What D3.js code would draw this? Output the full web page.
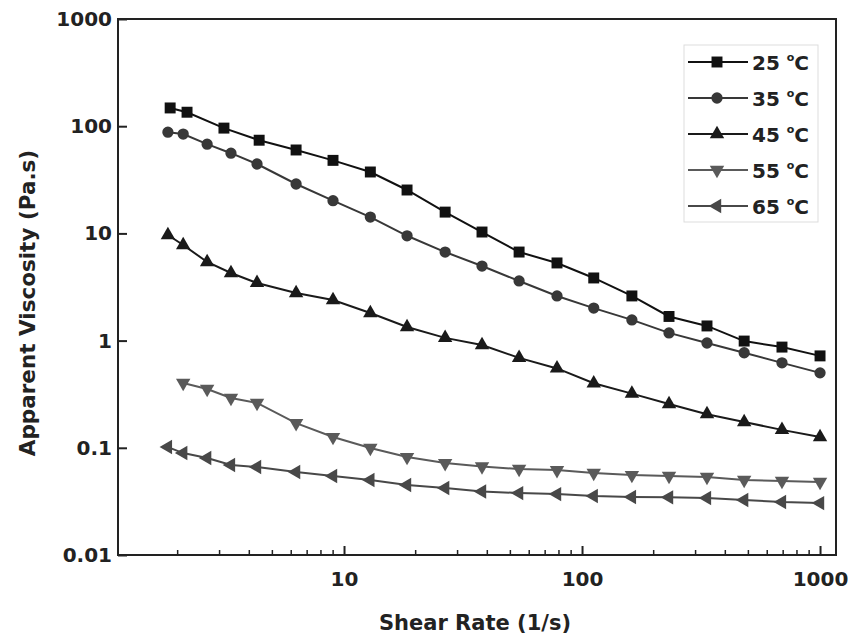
<!DOCTYPE html>
<html>
<head>
<meta charset="utf-8">
<script src="https://cdn.jsdelivr.net/npm/d3@7"></script>
<style>
  body { margin: 0; background: #fff; }
  svg { display: block; font-family: "DejaVu Sans", sans-serif; }
</style>
</head>
<body>
<svg id="canvas" width="848" height="638"></svg>
<script>
// shear rates (1/s)
let shearRate = [1.82, 2.11, 2.66, 3.35, 4.31, 6.29, 8.99, 12.9, 18.4, 26.6, 38.0, 54.4, 78.5, 112, 162, 232, 335, 480, 692, 1000]
let shearRate25 = [1.86, 2.19, 3.13, 4.4, 6.29, 8.99, 12.9, 18.4, 26.6, 38.0, 54.4, 78.5, 112, 162, 232, 335, 480, 692, 1000]
let shearRate55 = shearRate.slice(1)

// apparent viscosity (Pa.s)
let visc25 = [148, 135, 96, 74, 60, 48, 37.4, 25.4, 15.8, 10.3, 6.7, 5.3, 3.84, 2.61, 1.68, 1.37, 0.99, 0.87, 0.72]
let visc35 = [88, 84.5, 68, 56, 44.4, 28.9, 20.2, 14.2, 9.5, 6.7, 4.96, 3.6, 2.61, 2.01, 1.56, 1.18, 0.95, 0.77, 0.62, 0.50]
let visc45 = [9.66, 7.8, 5.41, 4.27, 3.45, 2.78, 2.39, 1.81, 1.34, 1.06, 0.91, 0.69, 0.55, 0.40, 0.32, 0.256, 0.206, 0.174, 0.147, 0.126]
let visc55 = [0.402, 0.354, 0.292, 0.262, 0.170, 0.126, 0.0996, 0.082, 0.072, 0.067, 0.0634, 0.062, 0.0582, 0.0557, 0.0546, 0.0534, 0.0501, 0.049, 0.048]
let visc65 = [0.1016, 0.0893, 0.0803, 0.0691, 0.0662, 0.0594, 0.0546, 0.0501, 0.045, 0.0422, 0.0391, 0.0378, 0.037, 0.0355, 0.0348, 0.0345, 0.034, 0.0326, 0.0312, 0.0305]

let yTicks = [0.01, 0.1, 1, 10, 100, 1000]
let yTickLabels = ['0.01', '0.1', '1', '10', '100', '1000']
let xTicks = [10, 100, 1000]
let xTickLabels = ['10', '100', '1000']

let series = [
    { name: '25', x: shearRate25, y: visc25, color: '#111', shape: 'square' },
    { name: '35', x: shearRate, y: visc35, color: '#383838', shape: 'circle' },
    { name: '45', x: shearRate, y: visc45, color: '#1a1a1a', shape: 'up' },
    { name: '55', x: shearRate55, y: visc55, color: '#5a5a5a', shape: 'down' },
    { name: '65', x: shearRate, y: visc65, color: '#484848', shape: 'left' }
]

let plotLeft = 118, plotRight = 836, plotTop = 19, plotBottom = 555
let fontFamily = '"DejaVu Sans", sans-serif'

let canvas = d3.select('#canvas')

let xScale = d3.scaleLog().domain([1.123, 1167]).range([plotLeft, plotRight])
let yScale = d3.scaleLog().domain([0.01, 1000]).range([plotBottom, plotTop])

let symbolPath = (shape) => {
    if (shape === 'square') return d3.symbol(d3.symbolSquare, 120)()
    if (shape === 'circle') return d3.symbol(d3.symbolCircle, 100)()
    return d3.symbol(d3.symbolTriangle, 90)()
}
let rotation = (shape) => {
    if (shape === 'down') return 180
    if (shape === 'left') return -90
    return 0
}

// frame
canvas.append('rect')
    .attr('x', plotLeft).attr('y', plotTop)
    .attr('width', plotRight - plotLeft).attr('height', plotBottom - plotTop)
    .attr('fill', 'none').attr('stroke', '#222').attr('stroke-width', 2)

// x axis ticks (inside)
let minorX = []
for (let d = 1; d <= 1000; d *= 10) {
    for (let m = 2; m <= 9; m++) {
        let v = d * m
        if (v > 1.123 && v < 1000) minorX.push(v)
    }
}
let xAxis = d3.axisBottom(xScale)
    .tickValues(xTicks)
    .tickFormat((d, i) => xTickLabels[i])
    .tickSizeInner(-9).tickSizeOuter(0).tickPadding(17)
let gx = canvas.append('g').attr('transform', `translate(0,${plotBottom})`).call(xAxis)
gx.attr('font-family', fontFamily).attr('font-size', 20)
gx.select('.domain').remove()
gx.selectAll('line').attr('stroke', '#222').attr('stroke-width', 2)
gx.selectAll('text')
    .attr('fill', '#222').attr('font-size', 20).attr('font-weight', 'bold')

canvas.append('g').selectAll('line')
    .data(minorX)
    .enter()
    .append('line')
    .attr('x1', d => xScale(d)).attr('x2', d => xScale(d))
    .attr('y1', plotBottom).attr('y2', plotBottom - 5)
    .attr('stroke', '#222').attr('stroke-width', 1.5)

// y axis
let yAxis = d3.axisLeft(yScale)
    .tickValues(yTicks)
    .tickFormat((d, i) => yTickLabels[i])
    .tickSizeInner(-9).tickSizeOuter(0).tickPadding(6)
let gy = canvas.append('g').attr('transform', `translate(${plotLeft},0)`).call(yAxis)
gy.attr('font-family', fontFamily).attr('font-size', 20)
gy.select('.domain').remove()
gy.selectAll('line').attr('stroke', '#222').attr('stroke-width', 2)
gy.selectAll('text')
    .attr('fill', '#222').attr('font-size', 20).attr('font-weight', 'bold')

// axis titles
canvas.append('text')
    .attr('x', 475).attr('y', 630)
    .attr('text-anchor', 'middle')
    .attr('font-size', 21).attr('font-weight', 'bold').attr('fill', '#222')
    .text('Shear Rate (1/s)')

canvas.append('text')
    .attr('transform', `translate(35,303) rotate(-90)`)
    .attr('text-anchor', 'middle')
    .attr('font-size', 21.5).attr('font-weight', 'bold').attr('fill', '#222')
    .text('Apparent Viscosity (Pa.s)')

// lines and markers
let line = d3.line()
    .x(d => xScale(d[0]))
    .y(d => yScale(d[1]))

series.forEach((s) => {
    let pts = s.x.map((x, i) => [x, s.y[i]])
    canvas.append('path')
        .datum(pts)
        .attr('d', line)
        .attr('fill', 'none')
        .attr('stroke', s.color)
        .attr('stroke-width', 2)
    canvas.append('g').selectAll('path')
        .data(pts)
        .enter()
        .append('path')
        .attr('d', symbolPath(s.shape))
        .attr('transform', d => `translate(${xScale(d[0])},${yScale(d[1])}) rotate(${rotation(s.shape)})`)
        .attr('fill', s.color)
})

// legend
let legend = canvas.append('g')
legend.append('rect')
    .attr('x', 684).attr('y', 45).attr('width', 134).attr('height', 177)
    .attr('fill', '#fff').attr('stroke', '#ddd').attr('stroke-width', 1)

series.forEach((s, i) => {
    let ly = 62 + i * 36
    legend.append('line')
        .attr('x1', 688).attr('x2', 748)
        .attr('y1', ly).attr('y2', ly)
        .attr('stroke', s.color).attr('stroke-width', 2)
    legend.append('path')
        .attr('d', symbolPath(s.shape))
        .attr('transform', `translate(717,${ly}) rotate(${rotation(s.shape)})`)
        .attr('fill', s.color)
    let t = legend.append('text')
        .attr('x', 752).attr('y', ly + 8)
        .attr('font-size', 20).attr('font-weight', 'bold').attr('fill', '#222')
    t.append('tspan').text(s.name + ' ')
    t.append('tspan').attr('font-size', 11).attr('dy', -9).text('o')
    t.append('tspan').attr('dy', 9).text('C')
})
</script>
</body>
</html>
